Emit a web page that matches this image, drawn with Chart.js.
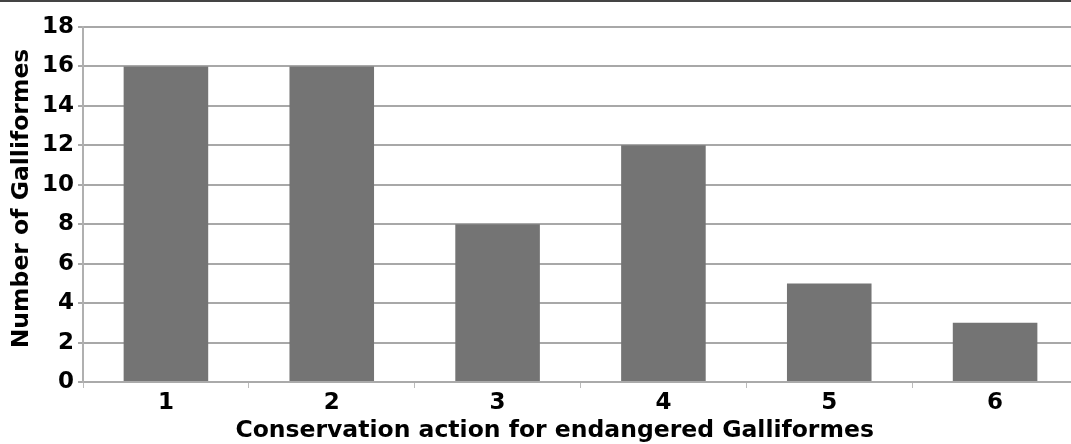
<!DOCTYPE html>
<html>
<head>
<meta charset="utf-8">
<script src="https://cdn.jsdelivr.net/npm/chart.js@4.4.1/dist/chart.umd.min.js"></script>
<style>
  html, body { margin: 0; padding: 0; background: #fff; overflow: hidden; }
  #wrap { width: 1071px; height: 444px; overflow: hidden; position: relative; }
  #rule { position: absolute; left: 0; top: 0; width: 1071px; height: 2px; background: #444; }
  canvas { position: absolute; left: 0; top: 0; }
</style>
</head>
<body>
<div id="wrap"><canvas id="c" width="1082" height="444"></canvas><div id="rule"></div></div>
<script>
// Conservation actions and how many Galliformes each one applies to
const actions = ['1', '2', '3', '4', '5', '6'];
const speciesCounts = [16, 16, 8, 12, 5, 3];
const yTicks = [0, 2, 4, 6, 8, 10, 12, 14, 16, 18];

const xTitle = 'Conservation action for endangered Galliformes';
const yTitle = 'Number of Galliformes';

const font = '"DejaVu Sans", "Liberation Sans", Arial, sans-serif';
const titleFont = 'bold 23.5px ' + font;

// Axis titles, placed by hand so they sit where the figure has them
const axisTitles = {
  id: 'axisTitles',
  afterDraw(chart) {
    const { ctx, chartArea } = chart;
    ctx.save();
    ctx.font = titleFont;
    ctx.fillStyle = '#000';
    ctx.textAlign = 'center';
    ctx.textBaseline = 'middle';
    const w = chartArea.right - chartArea.left;
    ctx.fillText(xTitle, chartArea.left + 0.474 * w, 431);
    ctx.translate(22, 198.5);
    ctx.rotate(-Math.PI / 2);
    ctx.fillText(yTitle, 0, 0);
    ctx.restore();
  }
};

new Chart(document.getElementById('c'), {
  type: 'bar',
  data: {
    labels: actions,
    datasets: [{
      data: speciesCounts,
      backgroundColor: '#747474',
      borderWidth: 0,
      categoryPercentage: 1.0,
      barPercentage: 0.51
    }]
  },
  options: {
    responsive: false,
    animation: false,
    devicePixelRatio: 1,
    layout: { padding: { top: 27, right: 4, left: 38, bottom: 25 } },
    plugins: { legend: { display: false }, tooltip: { enabled: false } },
    scales: {
      x: {
        offset: true,
        grid: { offset: true, drawOnChartArea: false, drawTicks: true, tickLength: 6, color: '#bbbbbb', lineWidth: 1 },
        border: { display: true, color: '#aaaaaa', width: 2 },
        ticks: { color: '#000', font: { family: font, size: 23, weight: 'bold', lineHeight: 1.0 }, padding: 4 },
        title: { display: false }
      },
      y: {
        min: 0,
        max: 18,
        afterBuildTicks: (scale) => { scale.ticks = yTicks.map(v => ({ value: v })); },
        grid: { color: '#a8a8a8', lineWidth: 2, tickLength: 5, drawTicks: true },
        border: { display: true, color: '#b0b0b0', width: 2 },
        ticks: { color: '#000', font: { family: font, size: 23, weight: 'bold', lineHeight: 1.0 }, padding: 4 },
        title: { display: false }
      }
    }
  },
  plugins: [axisTitles]
});
</script>
</body>
</html>
